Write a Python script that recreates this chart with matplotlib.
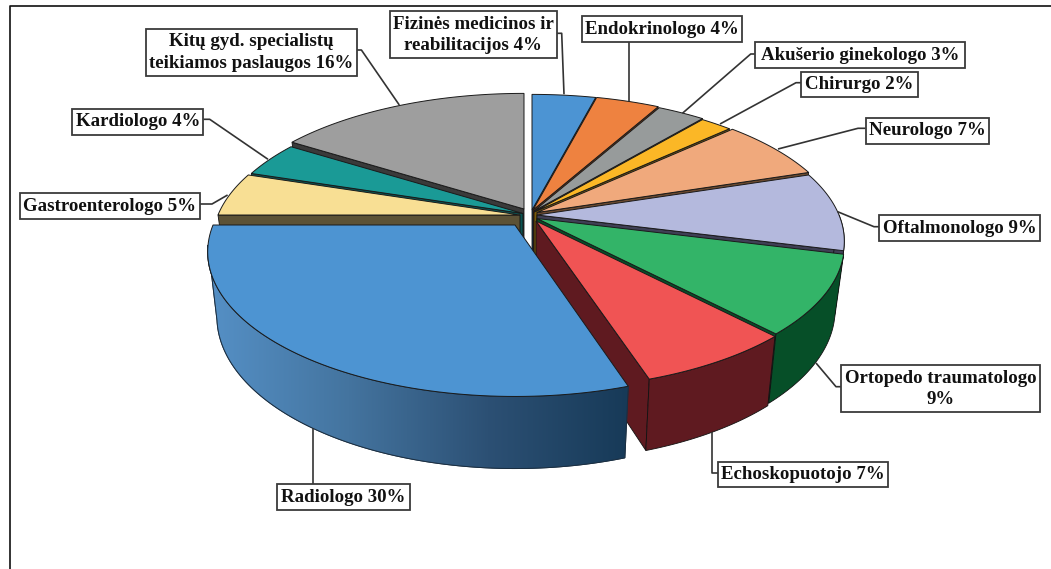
"""Exploded 3D pie of consultations by specialist, drawn with plain polygons."""

import matplotlib
matplotlib.use("Agg")
import matplotlib.pyplot as plt
import numpy as np
from matplotlib.colors import LinearSegmentedColormap
from matplotlib.patches import Polygon, Rectangle

labels = [
    "Fizinės medicinos ir\nreabilitacijos 4%", "Endokrinologo 4%", "Akušerio ginekologo 3%",
    "Chirurgo 2%", "Neurologo 7%", "Oftalmonologo 9%", "Ortopedo traumatologo\n9%",
    "Echoskopuotojo 7%", "Radiologo 30%", "Gastroenterologo 5%", "Kardiologo 4%",
    "Kitų gyd. specialistų\nteikiamos paslaugos 16%",
]
shares = [4, 4, 3, 2, 7, 9, 9, 7, 30, 5, 4, 16]
top_colors = ["#4c94d3", "#ee8240", "#979b9b", "#fbb726", "#f0a97c", "#b4b9dd",
              "#33b468", "#f05454", "#4d94d2", "#f8df94", "#1a9a96", "#9e9e9e"]
cut_colors = ["#1f4f78", "#7a3c14", "#444444", "#7a5a0a", "#6b4a30", "#3f3f55",
              "#064f28", "#5f1a20", "#1c4464", "#5c5236", "#0c5452", "#3a3a3a"]

# apex of each slice in pixels (the explosion), plus vertical stretch
apex_x = [532, 533, 534, 534, 537, 537, 537, 536, 515, 520, 523, 524]
apex_y = [210, 210, 211, 212, 212.5, 215, 218.5, 221, 225, 215, 213.5, 209]
stretch_y = [1, 1, 1, 1, 1, 1, 1, 1, 1.02, 1, 1, 1]

# label boxes x0, y0, x1, y1 and leader lines
boxes = [
    (390, 11, 556.5, 58.3), (581.7, 16, 742, 42.3), (754.8, 42.3, 965, 67.7),
    (801.4, 71.7, 917.6, 97.3), (865.5, 118, 989.3, 143.7), (879.3, 215.3, 1040, 241.3),
    (841.4, 365, 1039.7, 412.3), (718, 462, 888, 487.3), (277, 484, 409.7, 510),
    (19.7, 193, 200, 219), (72, 108.7, 203.4, 134.7), (146, 29, 357, 76),
]
leaders = [
    [(556.5, 33.3), (561.7, 33.3), (564, 94.3)],
    [(629, 42.3), (629, 101)],
    [(754.8, 54), (750.7, 54), (682.4, 113.3)],
    [(801.4, 82.7), (796, 82.7), (720, 124)],
    [(865.5, 128.3), (858, 128.3), (778, 149)],
    [(879.3, 226.7), (874, 226.7), (837.6, 211.7)],
    [(841.4, 386.7), (836, 386.7), (816, 363)],
    [(718, 472.7), (712, 472.7), (712, 431.7)],
    [(313.4, 484), (313.4, 428)],
    [(200, 204), (212, 204), (227.6, 195)],
    [(203.4, 119.3), (209.7, 119.3), (268, 159.3)],
    [(357, 50), (361.4, 50), (399.3, 105)],
]

RADIUS_X = 302
RADIUS_Y = 137
PERSPECTIVE = 0.185
DEPTH = 63.5
BOTTOM_X = 0.97
BOTTOM_Y = 1.05

# back slices first, the front ones overlap them
DRAW_ORDER = [11, 10, 9, 0, 1, 2, 3, 4, 5, 6, 7, 8]
GRADIENT_SLICE = 8


def project(theta, idx, bottom=False):
    """Map clockwise angle from 12 o'clock onto the tilted disc, in pixels."""
    u = np.sin(theta)
    v = -np.cos(theta)
    den = 1 - PERSPECTIVE * v
    x = RADIUS_X * u / den
    y = RADIUS_Y * v / den * stretch_y[idx]
    if bottom:
        return apex_x[idx] + BOTTOM_X * x, apex_y[idx] + DEPTH + BOTTOM_Y * y
    return apex_x[idx] + x, apex_y[idx] + y


def apex(idx, bottom=False):
    return apex_x[idx], apex_y[idx] + (DEPTH if bottom else 0)


def gradient_wall(ax, idx, start, end):
    # silhouette runs from the top rim straight down to the bottom rim on the left
    top_arc = np.linspace(start, np.radians(262), 90)
    bottom_arc = np.linspace(np.radians(258), start, 90)
    pts = [project(t, idx) for t in top_arc] + [project(t, idx, True) for t in bottom_arc]
    wall = Polygon(pts, closed=True, fc="none", ec="#1b2f42", lw=0.7)
    ax.add_patch(wall)
    xs = [p[0] for p in pts]
    ys = [p[1] for p in pts]
    shade = LinearSegmentedColormap.from_list("wall", ["#5590c6", "#44749f", "#2c5074", "#173a58"])
    ramp = np.linspace(0, 1, 256).reshape(1, -1)
    im = ax.imshow(ramp, cmap=shade, extent=(min(xs), max(xs), max(ys), min(ys)),
                   aspect="auto", interpolation="bilinear", zorder=1)
    im.set_clip_path(wall)
    ax.add_patch(Polygon(pts, closed=True, fc="none", ec="#1b2f42", lw=0.7))


def draw_slice(ax, idx, start, end):
    color = top_colors[idx]
    cut = cut_colors[idx]

    # only the radial face turned to the viewer is drawn
    faces = []
    if end <= np.pi:
        faces = [end]
    elif start >= np.pi:
        faces = [start]
    for angle in faces:
        quad = [apex(idx), project(angle, idx), project(angle, idx, True), apex(idx, True)]
        ax.add_patch(Polygon(quad, closed=True, fc=cut, ec="#111111", lw=0.6))

    # outer wall, only the part that looks to the viewer
    lo, hi = max(start, np.pi / 2), min(end, 1.5 * np.pi)
    if idx == GRADIENT_SLICE:
        gradient_wall(ax, idx, start, end)
    elif hi > lo:
        thetas = np.linspace(lo, hi, 90)
        pts = [project(t, idx) for t in thetas] + [project(t, idx, True) for t in thetas[::-1]]
        ax.add_patch(Polygon(pts, closed=True, fc=cut, ec="#111111", lw=0.6))

    # top face
    thetas = np.linspace(start, end, 80)
    pts = [apex(idx)] + [project(t, idx) for t in thetas]
    ax.add_patch(Polygon(pts, closed=True, fc=color, ec="#1a1a1a", lw=0.7))


fig = plt.figure(figsize=(10.51, 5.69), dpi=100)
ax = fig.add_axes([0, 0, 1, 1])
ax.axis("off")

# frame: only left and top are inside the crop
ax.plot([9.7, 9.7, 1051], [569, 6, 6], color="#111111", lw=1.2)

edges = np.cumsum([0] + shares) / sum(shares) * 2 * np.pi
for i in DRAW_ORDER:
    draw_slice(ax, i, edges[i], edges[i + 1])

for line in leaders:
    ax.plot(*zip(*line), color="#333333", lw=1.2, solid_capstyle="butt")

for text, (x0, y0, x1, y1) in zip(labels, boxes):
    ax.add_patch(Rectangle((x0, y0), x1 - x0, y1 - y0, fc="white", ec="#3a3a3a", lw=1.3, zorder=5))
    ax.text((x0 + x1) / 2, (y0 + y1) / 2, text, ha="center", va="center", zorder=6,
            family="Liberation Serif", weight="bold", fontsize=13.6, color="#111111",
            linespacing=1.32)

ax.set_xlim(0, 1051)
ax.set_ylim(569, 0)

fig.savefig("out.png", dpi=100)
plt.close(fig)
